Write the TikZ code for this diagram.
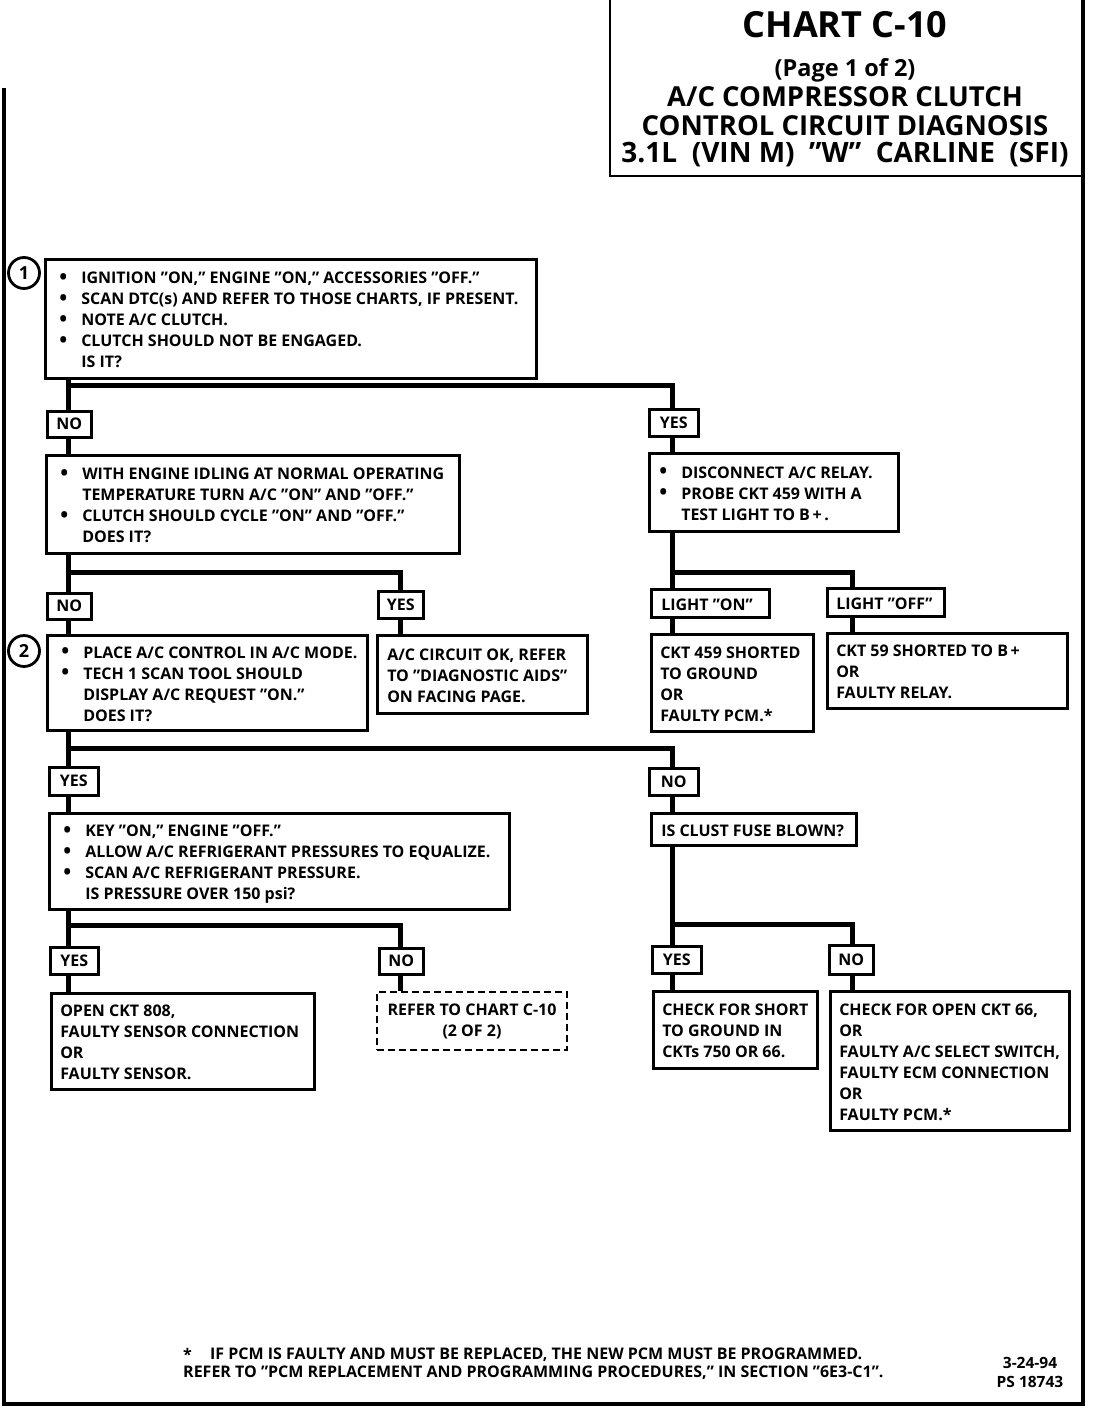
\documentclass[tikz,border=0pt]{standalone}
\usepackage{fontspec}
\setmainfont{Open Sans}
\newcommand{\bodyf}{\fontsize{16}{21}\selectfont\bfseries}
\newcommand{\bl}{\makebox[22pt][l]{\raisebox{-0.5pt}{\fontsize{21}{21}\selectfont\textbullet}}}
\newcommand{\ind}{\hspace*{22pt}}
\newcommand{\tl}[2]{\makebox[#1][l]{\raisebox{-3pt}[\height][\depth]{\begin{tabular}{@{}l@{}}#2\end{tabular}}}}
\begin{document}
\begin{tikzpicture}[x=1pt,y=-1pt]
\tikzset{
  box/.style={draw, line width=2.5pt, anchor=north west, font=\bodyf, inner ysep=0pt},
  lab/.style={draw, line width=2.5pt, anchor=north west, font=\bodyf, inner sep=0pt},
  dbox/.style={draw, line width=2pt, dash pattern=on 7pt off 4pt, anchor=north west, align=center, font=\bodyf, inner sep=0pt},
  conn/.style={line width=5pt},
  num/.style={circle, draw, line width=2.8pt, minimum size=31pt, inner sep=0pt, font=\fontsize{18}{18}\selectfont\bfseries},
  border/.style={line width=3.5pt},
  titf/.style={font=\fontsize{27.5}{28}\selectfont\bfseries, inner sep=0pt},
  foot/.style={font=\fontsize{16}{18}\selectfont\bfseries, inner sep=0pt, anchor=west},
}
\useasboundingbox (0,0) rectangle (1104,1424);
% page border
\draw[border] (4,88) -- (4,1404) -- (1083,1404) -- (1083,0);
\draw[line width=2pt] (610,0) -- (610,176) -- (1083,176);
% title
\node[titf, font=\fontsize{36}{36}\selectfont\bfseries] (t1) at (845,25) {CHART C-10};
\node[titf, font=\fontsize{23.5}{24}\selectfont\bfseries] (t2) at (845,70) {(Page 1 of 2)};
\node[titf] (t3) at (845,97) {A/C COMPRESSOR CLUTCH};
\node[titf] (t4) at (845,126) {CONTROL CIRCUIT DIAGNOSIS};
\node[titf, font=\fontsize{28}{28}\selectfont\bfseries] (t5) at (845,155) {3.1L\ \ (VIN M)\ \ "W"\ \ CARLINE\ \ (SFI)};
% trunk x coordinates
\coordinate (xa) at (68,0);
\coordinate (xb) at (400,0);
\coordinate (xc) at (672,0);
\coordinate (xd) at (852,0);
\coordinate (j1) at (68,385);
\coordinate (j2) at (68,572);
\coordinate (j3) at (672,572);
\coordinate (j4) at (68,748);
\coordinate (j5) at (68,925);
\coordinate (j6) at (672,924);
% circles
\node[num] (c1) at (24,273) {1};
\node[num] (c2) at (24,651) {2};
% boxes
\node[box, inner xsep=14pt, minimum height=119pt] (b1) at (44,258)
 {\tl{463pt}{\bl IGNITION "ON," ENGINE "ON," ACCESSORIES "OFF."\\
  \bl SCAN DTC(s) AND REFER TO THOSE CHARTS, IF PRESENT.\\
  \bl NOTE A/C CLUTCH.\\
  \bl CLUTCH SHOULD NOT BE ENGAGED.\\
  \ind IS IT?}};
\node[lab, minimum width=44pt, minimum height=26pt] (no1) at (46,410) {NO};
\node[lab, minimum width=49pt, minimum height=27pt] (yes1) at (648,408) {YES};
\node[box, inner xsep=14pt, minimum height=98pt] (b2) at (45,454)
 {\tl{385pt}{\bl WITH ENGINE IDLING AT NORMAL OPERATING\\
  \ind TEMPERATURE TURN A/C "ON" AND "OFF."\\
  \bl CLUTCH SHOULD CYCLE "ON" AND "OFF."\\
  \ind DOES IT?}};
\node[box, inner xsep=10pt, minimum height=78pt] (disc) at (648,452)
 {\tl{229pt}{\bl DISCONNECT A/C RELAY.\\
  \bl PROBE CKT 459 WITH A\\
  \ind TEST LIGHT TO B\,+\,.}};
\node[lab, minimum width=44pt, minimum height=26pt] (no2) at (46,592) {NO};
\node[lab, minimum width=45pt, minimum height=27pt] (yes2) at (377,590) {YES};
\node[box, inner xsep=14pt, minimum height=95pt] (b3) at (46,634)
 {\tl{292pt}{\bl PLACE A/C CONTROL IN A/C MODE.\\
  \bl TECH 1 SCAN TOOL SHOULD\\
  \ind DISPLAY A/C REQUEST "ON."\\
  \ind DOES IT?}};
\node[box, inner xsep=10pt, minimum height=78pt] (ok) at (376,634)
 {\tl{190pt}{A/C CIRCUIT OK, REFER\\
  TO "DIAGNOSTIC AIDS"\\
  ON FACING PAGE.}};
\node[box, inner xsep=10pt, minimum height=28pt] (lon) at (650,588) {\tl{98pt}{LIGHT "ON"}};
\node[box, inner xsep=9pt, minimum height=28pt] (loff) at (826,587) {\tl{99pt}{LIGHT "OFF"}};
\node[box, inner xsep=9pt, minimum height=97pt] (c459) at (650,633)
 {\tl{144pt}{CKT 459 SHORTED\\
  TO GROUND\\
  OR\\
  FAULTY PCM.*}};
\node[box, inner xsep=9pt, minimum height=75pt] (c59) at (826,632)
 {\tl{222pt}{CKT 59 SHORTED TO B\,+\\
  OR\\
  FAULTY RELAY.}};
\node[lab, minimum width=49pt, minimum height=28pt] (yes3) at (48,766) {YES};
\node[lab, minimum width=49pt, minimum height=27pt] (no3) at (648,767) {NO};
\node[box, inner xsep=14pt, minimum height=96pt] (key) at (48,812)
 {\tl{432pt}{\bl KEY "ON," ENGINE "OFF."\\
  \bl ALLOW A/C REFRIGERANT PRESSURES TO EQUALIZE.\\
  \bl SCAN A/C REFRIGERANT PRESSURE.\\
  \ind IS PRESSURE OVER 150 psi?}};
\node[box, inner xsep=10pt, minimum height=32pt] (fuse) at (650,812)
 {\tl{185pt}{IS CLUST FUSE BLOWN?}};
\node[lab, minimum width=48pt, minimum height=27pt] (yes4) at (49,946) {YES};
\node[lab, minimum width=44pt, minimum height=26pt] (no4) at (378,947) {NO};
\node[box, inner xsep=9pt, minimum height=96pt] (open) at (50,992)
 {\tl{245pt}{OPEN CKT 808,\\
  FAULTY SENSOR CONNECTION\\
  OR\\
  FAULTY SENSOR.}};
\node[dbox, minimum width=190pt, minimum height=58pt] (refer) at (376,991)
 {REFER TO CHART C-10\\(2 OF 2)};
\node[lab, minimum width=49pt, minimum height=27pt] (yes5) at (651,945) {YES};
\node[lab, minimum width=44pt, minimum height=29pt] (no5) at (828,944) {NO};
\node[box, inner xsep=9pt, minimum height=77pt] (short) at (652,990)
 {\tl{146pt}{CHECK FOR SHORT\\
  TO GROUND IN\\
  CKTs 750 OR 66.}};
\node[box, inner xsep=9pt, minimum height=139pt] (copen) at (829,990)
 {\tl{221pt}{CHECK FOR OPEN CKT 66,\\
  OR\\
  FAULTY A/C SELECT SWITCH,\\
  FAULTY ECM CONNECTION\\
  OR\\
  FAULTY PCM.*}};
% connectors
\draw[conn] (b1.south -| xa) -- (no1.north -| xa);
\draw[conn] (j1) -| (yes1.north -| xc);
\draw[conn] (no1.south -| xa) -- (b2.north -| xa);
\draw[conn] (yes1.south -| xc) -- (disc.north -| xc);
\draw[conn] (b2.south -| xa) -- (no2.north -| xa);
\draw[conn] (j2) -| (yes2.north -| xb);
\draw[conn] (no2.south -| xa) -- (b3.north -| xa);
\draw[conn] (yes2.south -| xb) -- (ok.north -| xb);
\draw[conn] (disc.south -| xc) -- (lon.north -| xc);
\draw[conn] (j3) -| (loff.north -| xd);
\draw[conn] (lon.south -| xc) -- (c459.north -| xc);
\draw[conn] (loff.south -| xd) -- (c59.north -| xd);
\draw[conn] (b3.south -| xa) -- (yes3.north -| xa);
\draw[conn] (j4) -| (no3.north -| xc);
\draw[conn] (yes3.south -| xa) -- (key.north -| xa);
\draw[conn] (no3.south -| xc) -- (fuse.north -| xc);
\draw[conn] (key.south -| xa) -- (yes4.north -| xa);
\draw[conn] (j5) -| (no4.north -| xb);
\draw[conn] (yes4.south -| xa) -- (open.north -| xa);
\draw[conn] (no4.south -| xb) -- (refer.north -| xb);
\draw[conn] (fuse.south -| xc) -- (yes5.north -| xc);
\draw[conn] (j6) -| (no5.north -| xd);
\draw[conn] (yes5.south -| xc) -- (short.north -| xc);
\draw[conn] (no5.south -| xd) -- (copen.north -| xd);
% footnote
\node[foot] (f0) at (183,1354) {*};
\node[foot] (f1) at (210,1355) {IF PCM IS FAULTY AND MUST BE REPLACED, THE NEW PCM MUST BE PROGRAMMED.};
\node[foot] (f2) at (183,1373) {REFER TO "PCM REPLACEMENT AND PROGRAMMING PROCEDURES," IN SECTION "6E3-C1".};
\node[foot, anchor=center, font=\fontsize{15.5}{15}\selectfont\bfseries] (d1) at (1030,1363) {3-24-94};
\node[foot, anchor=center, font=\fontsize{15.5}{15}\selectfont\bfseries] (d2) at (1030,1382) {PS 18743};
\end{tikzpicture}
\end{document}
